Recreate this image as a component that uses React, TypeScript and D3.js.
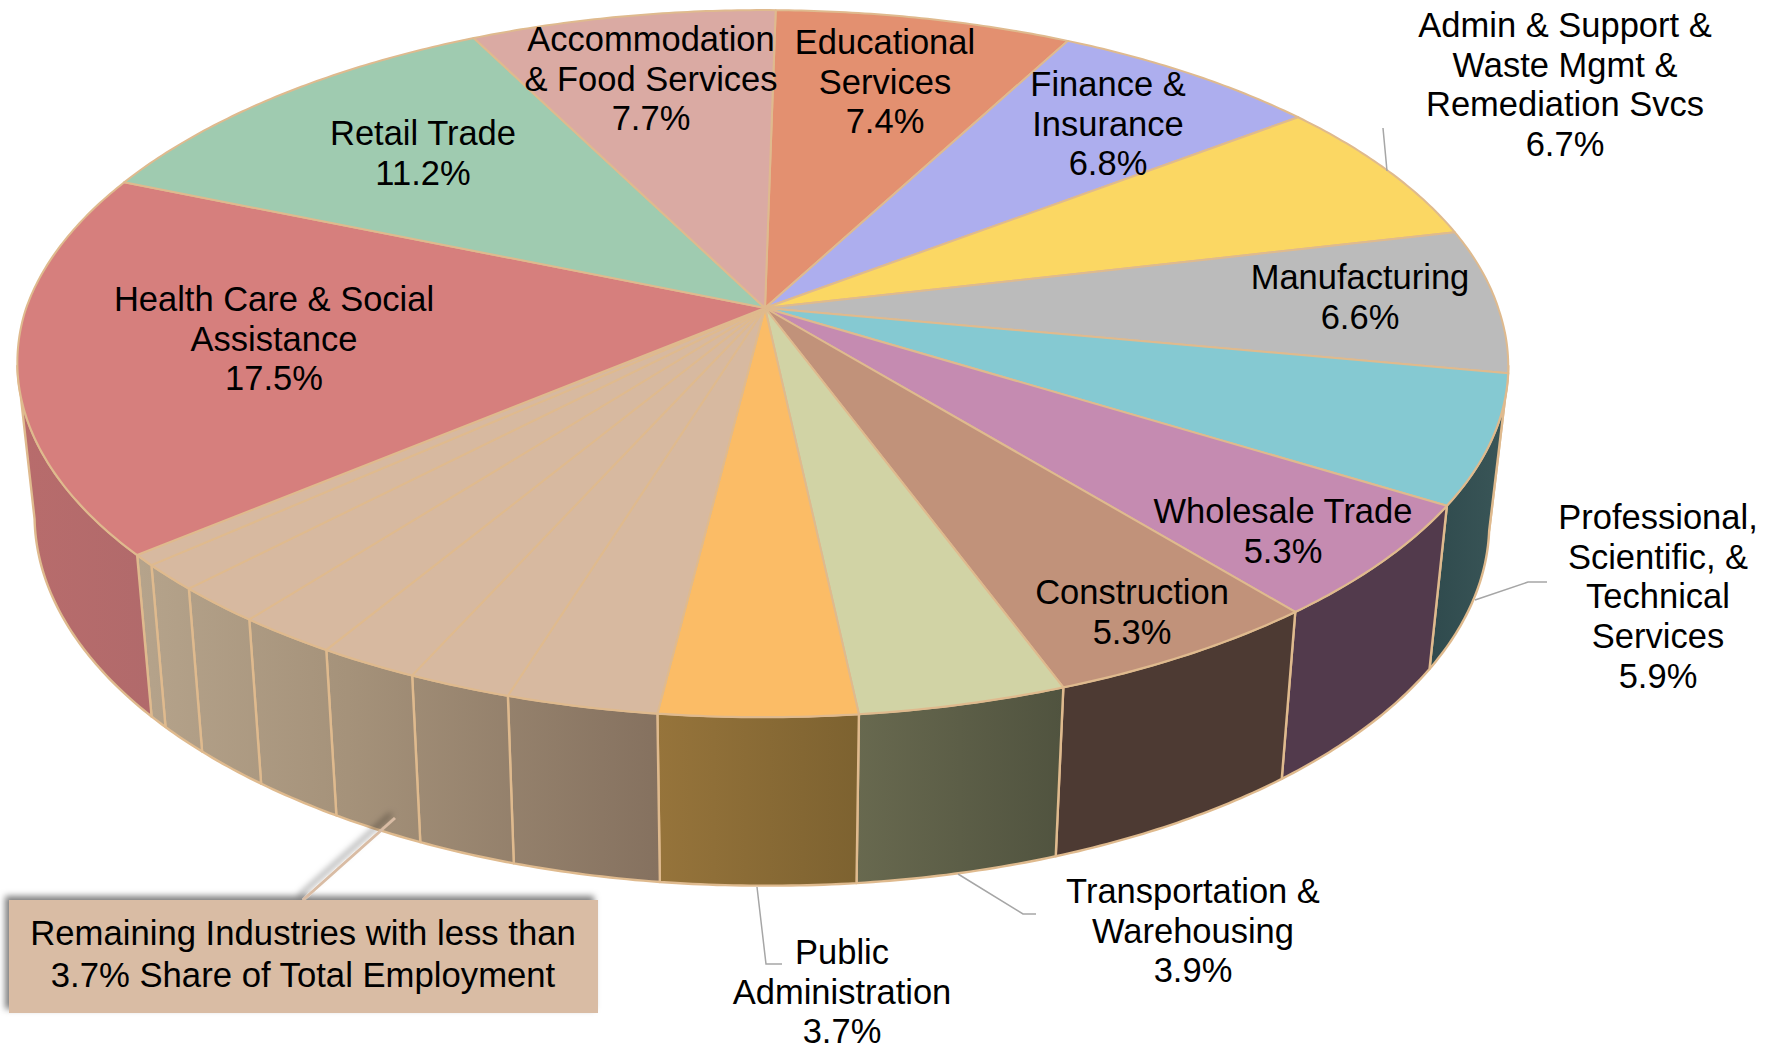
import React from "react";
import * as d3 from "d3";

// ---- data (percent share of total employment, clockwise from the top) ----
const categories = [
  "Educational Services", "Finance & Insurance", "Admin & Support", "Manufacturing",
  "Professional", "Wholesale Trade", "Construction", "Transportation", "Public Administration",
  "Rem1", "Rem2", "Rem3", "Rem4", "Rem5", "Rem6", "Rem7",
  "Health Care", "Retail Trade", "Accommodation",
];
const shares = [7.4, 6.8, 6.7, 6.6, 5.9, 5.3, 5.3, 3.9, 3.7, 2.85, 1.95, 1.9, 1.9, 1.7, 1.2, 0.5, 17.5, 11.2, 7.7];
const topColors = [
  "#e39070", "#adaeee", "#fbd763", "#bbbbbb", "#85c9d2", "#c58bb1", "#c1927a", "#d1d3a5", "#fbbc66",
  "#d7b9a0", "#d7b9a0", "#d7b9a0", "#d7b9a0", "#d7b9a0", "#d7b9a0", "#d7b9a0",
  "#d67f7d", "#9fcbb0", "#daaaa3",
];
const sideFrom = [
  "#8a5a46", "#6c6c94", "#9c8640", "#3a5658", "#2f4a4d", "#523a4c", "#4d3a33", "#68694f", "#96743b",
  "", "", "", "", "", "", "",
  "#b86c6c", "#6a8a76", "#8a6c66",
];
const sideTo = [
  "#8a5a46", "#6c6c94", "#9c8640", "#3a5658", "#3a5658", "#523a4c", "#4d3a33", "#50533f", "#7d6230",
  "", "", "", "", "", "", "",
  "#b16a6b", "#6a8a76", "#8a6c66",
];

const labelLines = [
  { lines: ["Educational", "Services", "7.4%"], x: 885, y: 54 },
  { lines: ["Finance &", "Insurance", "6.8%"], x: 1108, y: 96 },
  { lines: ["Admin & Support &", "Waste Mgmt &", "Remediation Svcs", "6.7%"], x: 1565, y: 37 },
  { lines: ["Manufacturing", "6.6%"], x: 1360, y: 289 },
  { lines: ["Professional,", "Scientific, &", "Technical", "Services", "5.9%"], x: 1658, y: 529 },
  { lines: ["Wholesale Trade", "5.3%"], x: 1283, y: 523 },
  { lines: ["Construction", "5.3%"], x: 1132, y: 604 },
  { lines: ["Transportation &", "Warehousing", "3.9%"], x: 1193, y: 903 },
  { lines: ["Public", "Administration", "3.7%"], x: 842, y: 964 },
  { lines: ["Health Care & Social", "Assistance", "17.5%"], x: 274, y: 311 },
  { lines: ["Retail Trade", "11.2%"], x: 423, y: 145 },
  { lines: ["Accommodation", "& Food Services", "7.7%"], x: 651, y: 51 },
];
const calloutLines = ["Remaining Industries with less than", "3.7% Share of Total Employment"];
const leaders = [
  [[1383, 128], [1387, 171]],
  [[1475, 600], [1528, 582], [1547, 582]],
  [[958, 874], [1023, 914], [1036, 914]],
  [[757, 887], [766, 964], [782, 964]],
];

// ---- perspective geometry ----
const hub: [number, number] = [765, 308];
const cx = 765, cy = 307, A = 736.8, B = 296.6, K = -0.157;
const startDeg = 1.2;
const project = (a: number): [number, number] => {
  const u = Math.sin(a), v = -Math.cos(a), w = 1 + K * v;
  return [
    cx + (A * u) / w - 2.8 + 8 * Math.max(0, -u * v),
    (cy + B * v) / w + 1.1 + 2.3 * (1 - v * v),
  ];
};
const lower = ([x, y]: [number, number]): [number, number] => {
  const right = Math.max(0, x - cx) / 600;
  return [cx + 0.977 * (x - cx) - 1.5 * right, 137.2 + 1.0437 * y + 3.5 * right];
};
const rim = (a0: number, a1: number) => {
  const n = Math.max(2, Math.ceil(Math.abs(a1 - a0) / 0.01));
  return d3.range(n + 1).map((i) => project(a0 + ((a1 - a0) * i) / n));
};

const pieGen = d3.pie<number>().sort(null).startAngle((startDeg * Math.PI) / 180).endAngle((startDeg * Math.PI) / 180 + 2 * Math.PI);
const arcs = pieGen(shares);
const lineGen = d3.line();
const EDGE = "#dfba8e";
// Part of the rim whose wall faces the viewer: from the right-hand to the left-hand extreme of the ellipse.
const wallFrom = Math.acos(K);
const wallTo = 2 * Math.PI - Math.acos(K);

export default function App() {
  const sides = arcs
    .map((d, i) => ({ d, i, a0: Math.max(d.startAngle, wallFrom), a1: Math.min(d.endAngle, wallTo) }))
    .filter((s) => s.a1 > s.a0);
  return (
    <svg width={1772} height={1046} viewBox="0 0 1772 1046" style={{ position: "absolute", left: 0, top: 0, display: "block" }}
      fontFamily="'Liberation Sans', Arial, sans-serif">
      <defs>
        <filter id="sh" x="-10%" y="-30%" width="120%" height="150%">
          <feDropShadow dx={-4} dy={-4} stdDeviation={3} floodColor="#000" floodOpacity={0.5} />
        </filter>
        <linearGradient id="remain" gradientUnits="userSpaceOnUse" x1={140} x2={660} y1={0} y2={0}>
          <stop offset="0" stopColor="#b5a38b" />
          <stop offset="0.4" stopColor="#a5927a" />
          <stop offset="1" stopColor="#85715f" />
        </linearGradient>
        {arcs.map((_, i) =>
          sideFrom[i] ? (
            <linearGradient id={`s${i}`} key={i} x1="0" x2="1" y1="0" y2="0">
              <stop offset="0" stopColor={sideFrom[i]} />
              <stop offset="1" stopColor={sideTo[i]} />
            </linearGradient>
          ) : null
        )}
      </defs>

      {sides.map(({ i, a0, a1 }) => {
        const top = rim(a0, a1);
        const pts = [...top, ...top.slice().reverse().map(lower)];
        return (
          <path key={categories[i]} d={lineGen(pts as [number, number][]) + "Z"}
            fill={sideFrom[i] ? `url(#s${i})` : "url(#remain)"} stroke={EDGE} strokeWidth={2.4} strokeLinejoin="round" />
        );
      })}

      {arcs.map((d, i) => {
        const pts = [hub, ...rim(d.startAngle, d.endAngle)];
        return (
          <path key={categories[i]} d={lineGen(pts as [number, number][]) + "Z"} fill={topColors[i]}
            stroke={EDGE} strokeWidth={2} strokeLinejoin="round" />
        );
      })}

      {leaders.map((pts, i) => (
        <path key={i} d={lineGen(pts as [number, number][]) ?? ""} fill="none" stroke="#a6a6a6" strokeWidth={1.5} />
      ))}

      <g filter="url(#sh)">
        <line x1={395} y1={818} x2={303} y2={900} stroke="#d9bca4" strokeWidth={3} />
        <rect x={9} y={900} width={589} height={113} fill="#d9bca4" />
      </g>
      <g fontSize={34.7} textAnchor="middle" fill="#000">
        {calloutLines.map((t, i) => (
          <text key={t} x={303} y={945 + i * 42}>{t}</text>
        ))}
      </g>

      <g fontSize={34.5} textAnchor="middle" fill="#000">
        {labelLines.map((l) =>
          l.lines.map((t, j) => (
            <text key={l.lines[0] + j} x={l.x} y={l.y + j * 39.7}>{t}</text>
          ))
        )}
      </g>
    </svg>
  );
}
